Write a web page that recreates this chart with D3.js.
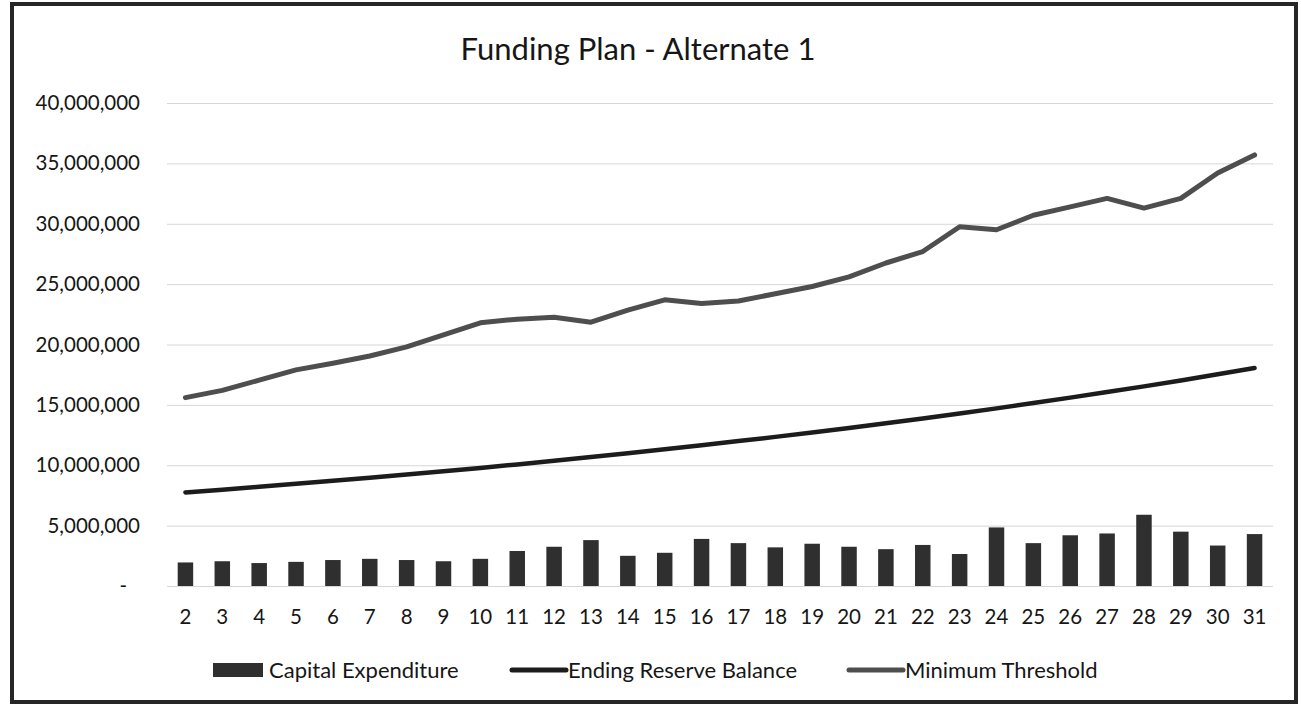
<!DOCTYPE html>
<html>
<head>
<meta charset="utf-8">
<script src="https://cdnjs.cloudflare.com/ajax/libs/d3/7.8.5/d3.min.js"></script>
<style>
  body { margin: 0; background: #fff; }
  svg { display: block; }
  text { font-family: Lato, "Open Sans", sans-serif; fill: #161616; }
</style>
</head>
<body>
<script>
// chart values
var years = [2, 3, 4, 5, 6, 7, 8, 9, 10, 11, 12, 13, 14, 15, 16, 17, 18, 19, 20, 21, 22, 23, 24, 25, 26, 27, 28, 29, 30, 31];

var capitalExpenditure = [1950000, 2050000, 1900000, 2000000, 2150000, 2250000, 2150000, 2050000, 2250000, 2900000,
                          3250000, 3800000, 2500000, 2750000, 3900000, 3550000, 3200000, 3500000, 3250000, 3050000,
                          3400000, 2650000, 4850000, 3550000, 4200000, 4350000, 5900000, 4500000, 3350000, 4300000];

var endingReserve = [7750000, 7980000, 8210000, 8460000, 8710000, 8960000, 9230000, 9500000, 9780000, 10070000,
                     10370000, 10680000, 10990000, 11320000, 11650000, 12000000, 12350000, 12720000, 13090000, 13480000,
                     13880000, 14290000, 14710000, 15150000, 15600000, 16060000, 16530000, 17020000, 17530000, 18050000];

var minThreshold = [15600000, 16200000, 17050000, 17900000, 18450000, 19050000, 19800000, 20800000, 21800000, 22100000,
                    22250000, 21850000, 22850000, 23700000, 23400000, 23600000, 24200000, 24800000, 25600000, 26750000,
                    27700000, 29750000, 29500000, 30700000, 31400000, 32100000, 31300000, 32100000, 34200000, 35700000];

var yTicks = [0, 5000000, 10000000, 15000000, 20000000, 25000000, 30000000, 35000000, 40000000];

var seriesNames = ["Capital Expenditure", "Ending Reserve Balance", "Minimum Threshold"];

var setting = {
  WIDTH: 1301,
  HEIGHT: 706,
  LEFT: 167,
  RIGHT: 1273,
  TOP: 103,
  BOTTOM: 586
};

var svg = d3.select("body").append("svg")
            .attr("width", setting.WIDTH)
            .attr("height", setting.HEIGHT);

// outer frame
svg.append("rect")
   .attr("x", 12).attr("y", 4)
   .attr("width", 1284).attr("height", 698)
   .attr("fill", "#fff")
   .attr("stroke", "#262626")
   .attr("stroke-width", 4);

svg.append("text")
   .attr("x", 638).attr("y", 60)
   .attr("text-anchor", "middle")
   .style("font-size", "31px")
   .text("Funding Plan - Alternate 1");

var x = d3.scaleBand()
          .domain(years)
          .range([setting.LEFT, setting.RIGHT])
          .paddingInner(0.58)
          .paddingOuter(0.29);

var y = d3.scaleLinear()
          .domain([0, 40000000])
          .range([setting.BOTTOM, setting.TOP]);

// gridlines
svg.append("g")
   .selectAll("line")
   .data(yTicks)
   .enter().append("line")
   .attr("x1", setting.LEFT).attr("x2", setting.RIGHT)
   .attr("y1", function(d) { return y(d) + 0.5; })
   .attr("y2", function(d) { return y(d) + 0.5; })
   .attr("stroke", "#d6d6d6")
   .attr("stroke-width", 1);

// y axis labels
var yAxis = svg.append("g")
   .attr("transform", "translate(" + (setting.LEFT - 27) + ",0)")
   .call(d3.axisLeft(y).tickValues(yTicks).tickSize(0)
           .tickFormat(function(d) { return d === 0 ? "-" : d3.format(",")(d); }));
yAxis.select(".domain").remove();
yAxis.selectAll("text")
     .style("font-size", "20.5px")
     .attr("fill", "#161616")
     .attr("x", function(d) { return d === 0 ? -13 : 0; });

// x axis labels
var xAxis = svg.append("g")
   .attr("transform", "translate(0," + (setting.BOTTOM + 20) + ")")
   .call(d3.axisBottom(x).tickSize(0));
xAxis.select(".domain").remove();
xAxis.selectAll("text")
     .style("font-size", "20.5px")
     .attr("fill", "#161616");

// bars
svg.append("g")
   .selectAll("rect")
   .data(capitalExpenditure)
   .enter().append("rect")
   .attr("x", function(d, i) { return x(years[i]); })
   .attr("y", function(d) { return y(d); })
   .attr("width", x.bandwidth())
   .attr("height", function(d) { return y(0) - y(d); })
   .attr("fill", "#2f2f2f");

var line = d3.line()
             .x(function(d, i) { return x(years[i]) + x.bandwidth() / 2; })
             .y(function(d) { return y(d); });

svg.append("path")
   .datum(endingReserve)
   .attr("d", line)
   .attr("fill", "none")
   .attr("stroke", "#1c1c1c")
   .attr("stroke-width", 4.5)
   .attr("stroke-linecap", "round")
   .attr("stroke-linejoin", "round");

svg.append("path")
   .datum(minThreshold)
   .attr("d", line)
   .attr("fill", "none")
   .attr("stroke", "#4e4e4e")
   .attr("stroke-width", 5)
   .attr("stroke-linecap", "round")
   .attr("stroke-linejoin", "round");

// legend
var legend = svg.append("g");
var legendX = [213, 510, 847];
var legendColors = ["#2f2f2f", "#1c1c1c", "#4e4e4e"];

seriesNames.forEach(function(name, i) {
  var g = legend.append("g").attr("transform", "translate(" + legendX[i] + ",670)");
  if (i === 0) {
    g.append("rect").attr("x", 0).attr("y", -7).attr("width", 50).attr("height", 14)
     .attr("fill", legendColors[i]);
  } else {
    g.append("line").attr("x1", 2).attr("x2", 56).attr("y1", 0).attr("y2", 0)
     .attr("stroke", legendColors[i]).attr("stroke-width", 5)
     .attr("stroke-linecap", "round");
  }
  g.append("text")
   .attr("x", i === 0 ? 56 : 58).attr("y", 8)
   .style("font-size", "22px")
   .text(name);
});
</script>
</body>
</html>
